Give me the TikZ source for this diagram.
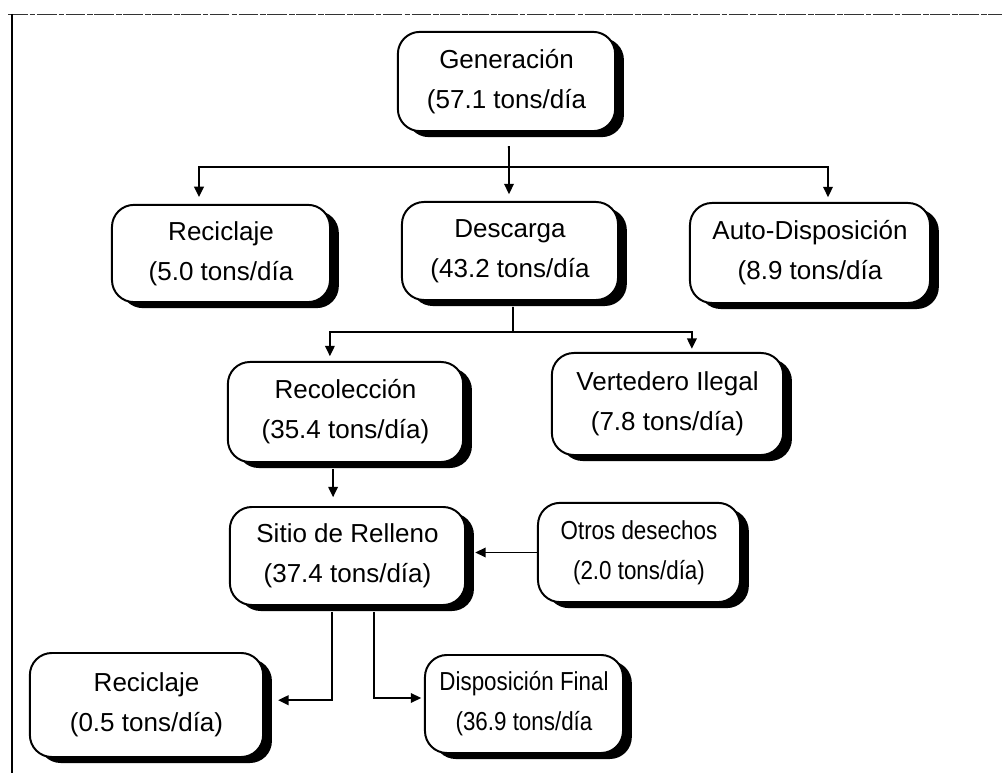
\documentclass[tikz,border=0pt]{standalone}
\usepackage{fontspec}
\setmainfont{Liberation Sans}
\newfontfamily\narrowsans{Liberation Sans}[FakeStretch=0.86]
\usetikzlibrary{shadows,arrows.meta}
\begin{document}
\begin{tikzpicture}[x=0.025cm, y=-0.025cm,
  flowbox/.style={draw=black, line width=1.4pt, fill=white, rounded corners=0.55cm,
    align=center, inner sep=0pt,
    font=\fontsize{18.5}{28.5}\selectfont,
    drop shadow={shadow xshift=0.22cm, shadow yshift=-0.15cm, fill=black, opacity=1}},
  narrowbox/.style={flowbox, font=\narrowsans\fontsize{18.5}{28.5}\selectfont},
  arr/.style={line width=1.3pt, -{Triangle[length=0.26cm,width=0.24cm]}},
  link/.style={line width=1.3pt}]
\useasboundingbox (0,0) rectangle (1002,773);

% frame
\draw[line width=0.7pt, black!80, dash pattern=on 14pt off 1.5pt on 4pt off 1pt] (8,14) -- (1002,14);
\draw[line width=2pt] (12,14) -- (12,773);

% boxes
\node[flowbox, minimum width=5.43cm, minimum height=2.48cm] (gen) at (506.5,81.5) {Generación\\(57.1 tons/día};
\node[flowbox, minimum width=5.45cm, minimum height=2.43cm] (rc1) at (221,253.5) {Reciclaje\\(5.0 tons/día};
\node[flowbox, minimum width=5.40cm, minimum height=2.45cm] (des) at (510,251) {Descarga\\(43.2 tons/día};
\node[flowbox, minimum width=6.00cm, minimum height=2.50cm] (aut) at (810,253) {Auto-Disposición\\(8.9 tons/día};
\node[flowbox, minimum width=5.88cm, minimum height=2.50cm] (rcl) at (345.5,412) {Recolección\\(35.4 tons/día)};
\node[flowbox, minimum width=5.78cm, minimum height=2.55cm] (ver) at (667.5,404) {Vertedero Ilegal\\(7.8 tons/día)};
\node[flowbox, minimum width=5.88cm, minimum height=2.45cm] (sit) at (347.5,556) {Sitio de Relleno\\(37.4 tons/día)};
\node[narrowbox, minimum width=5.05cm, minimum height=2.48cm] (otr) at (639,552.5) {Otros desechos\\(2.0 tons/día)};
\node[flowbox, minimum width=5.83cm, minimum height=2.60cm] (rc2) at (146.5,705) {Reciclaje\\(0.5 tons/día)};
\node[narrowbox, minimum width=4.95cm, minimum height=2.45cm] (dis) at (524,704) {Disposición Final\\(36.9 tons/día};

% junction points
\coordinate (g1) at (509,167);
\coordinate (d1) at (513,332);

% Generación splits three ways
\draw[link] ([xshift=0.06cm,yshift=-0.35cm]gen.south) -- (g1);
\draw[arr, shorten >=0.17cm] (g1) -| ([xshift=-0.55cm]rc1.north);
\draw[arr, shorten >=0.17cm] (g1) -- (g1 |- des.north);
\draw[arr, shorten >=0.12cm] (g1) -| ([xshift=0.45cm]aut.north);

% Descarga splits two ways
\draw[link] ([xshift=0.075cm,yshift=-0.15cm]des.south) -- (d1);
\draw[arr, shorten >=0.12cm] (d1) -| ([xshift=-0.39cm]rcl.north);
\draw[arr, shorten >=0.08cm] (d1) -| ([xshift=0.61cm]ver.north);

% Recolección into the landfill
\draw[arr, shorten >=0.22cm] ([xshift=-0.31cm,yshift=-0.15cm]rcl.south) -- ([xshift=-0.31cm]rcl.south |- sit.north);

% other wastes into the landfill
\draw[arr] (otr.west) -- ([xshift=0.23cm]sit.east |- otr.west);

% landfill outputs
\draw[arr] ([xshift=-0.39cm,yshift=-0.15cm]sit.south) |- ([xshift=0.35cm,yshift=0.12cm]rc2.east);
\draw[arr] ([xshift=0.66cm,yshift=-0.15cm]sit.south) |- ([xshift=-0.07cm,yshift=0.15cm]dis.west);
\end{tikzpicture}
\end{document}
